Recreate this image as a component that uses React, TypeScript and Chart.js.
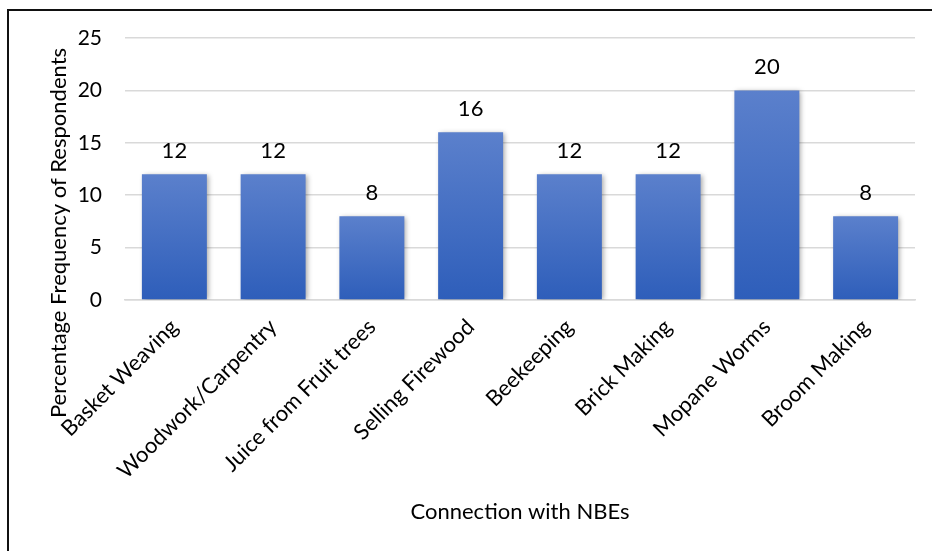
import React, { useEffect, useRef } from "react";
import { Chart, registerables } from "chart.js";

Chart.register(...registerables);

const categories = [
  "Basket Weaving",
  "Woodwork/Carpentry",
  "Juice from Fruit trees",
  "Selling Firewood",
  "Beekeeping",
  "Brick Making",
  "Mopane Worms",
  "Broom Making",
];
const values = [12, 12, 8, 16, 12, 12, 20, 8];
const yTitle = "Percentage Frequency of Respondents";
const xTitle = "Connection with NBEs";

const FONT = "Lato, 'Open Sans', sans-serif";

export default function App() {
  const ref = useRef<HTMLCanvasElement | null>(null);

  useEffect(() => {
    if (!ref.current) return;

    const shadowPlugin = {
      id: "barShadow",
      beforeDatasetsDraw(chart: any) {
        const c = chart.ctx;
        c.save();
        c.shadowColor = "rgba(0,0,0,0.35)";
        c.shadowBlur = 5;
        c.shadowOffsetX = 2;
        c.shadowOffsetY = 1;
      },
      afterDatasetsDraw(chart: any) {
        chart.ctx.restore();
      },
    };

    const labelPlugin = {
      id: "labels",
      afterDraw(chart: any) {
        const c = chart.ctx;
        const meta = chart.getDatasetMeta(0);
        c.save();
        c.font = `22px ${FONT}`;
        c.fillStyle = "#000";
        c.textAlign = "center";
        c.textBaseline = "alphabetic";
        meta.data.forEach((bar: any, i: number) => {
          c.fillText(String(values[i]), bar.x, bar.y - 16);
        });
        // y title
        c.translate(59, 233);
        c.rotate(-Math.PI / 2);
        c.textBaseline = "middle";
        c.fillText(yTitle, 0, 0);
        c.restore();
      },
    };

    const chart = new Chart(ref.current, {
      type: "bar",
      data: {
        labels: categories,
        datasets: [
          {
            data: values,
            backgroundColor: (ctx: any) => {
              const ch = ctx.chart;
              if (!ch.chartArea) return "#4472c4";
              const y = ch.scales.y;
              const top = y.getPixelForValue(ctx.raw);
              const base = y.getPixelForValue(0);
              const g = ch.ctx.createLinearGradient(0, top, 0, base);
              g.addColorStop(0, "#5b80cc");
              g.addColorStop(1, "#2e5eba");
              return g;
            },
            borderWidth: 0,
            barPercentage: 0.658,
            categoryPercentage: 1,
          },
        ],
      },
      options: {
        responsive: false,
        animation: false,
        layout: { padding: { left: 0, right: 17, top: 38, bottom: 0 } },
        plugins: { legend: { display: false }, tooltip: { enabled: false } },
        scales: {
          x: {
            grid: { display: false },
            border: { display: true, color: "#d9d9d9", width: 1.5 },
            ticks: {
              minRotation: 45,
              maxRotation: 45,
              color: "#000",
              font: { family: FONT, size: 22 },
              padding: 6,
            },
            title: {
              display: true,
              text: xTitle,
              color: "#000",
              font: { family: FONT, size: 22 },
              padding: { top: 0, bottom: 26 },
            },
            afterFit(scale: any) {
              scale.height = 251;
            },
          },
          y: {
            min: 0,
            max: 25,
            ticks: {
              stepSize: 5,
              color: "#000",
              font: { family: FONT, size: 21 },
              padding: 23,
            },
            grid: { color: "#d9d9d9", lineWidth: 1.5, drawTicks: false },
            border: { display: false },
            afterFit(scale: any) {
              scale.width = 125;
            },
          },
        },
      },
      plugins: [shadowPlugin, labelPlugin],
    });

    return () => chart.destroy();
  }, []);

  return (
    <div style={{ position: "absolute", left: 0, top: 0, width: 932, height: 551, background: "#fff" }}>
      <div
        style={{
          position: "absolute",
          left: 7,
          top: 9,
          width: 940,
          height: 560,
          borderTop: "2px solid #111",
          borderLeft: "2px solid #111",
          boxSizing: "border-box",
        }}
      />
      <canvas
        ref={ref}
        width={932}
        height={551}
        style={{ position: "absolute", left: 0, top: 0, width: 932, height: 551 }}
      />
    </div>
  );
}
